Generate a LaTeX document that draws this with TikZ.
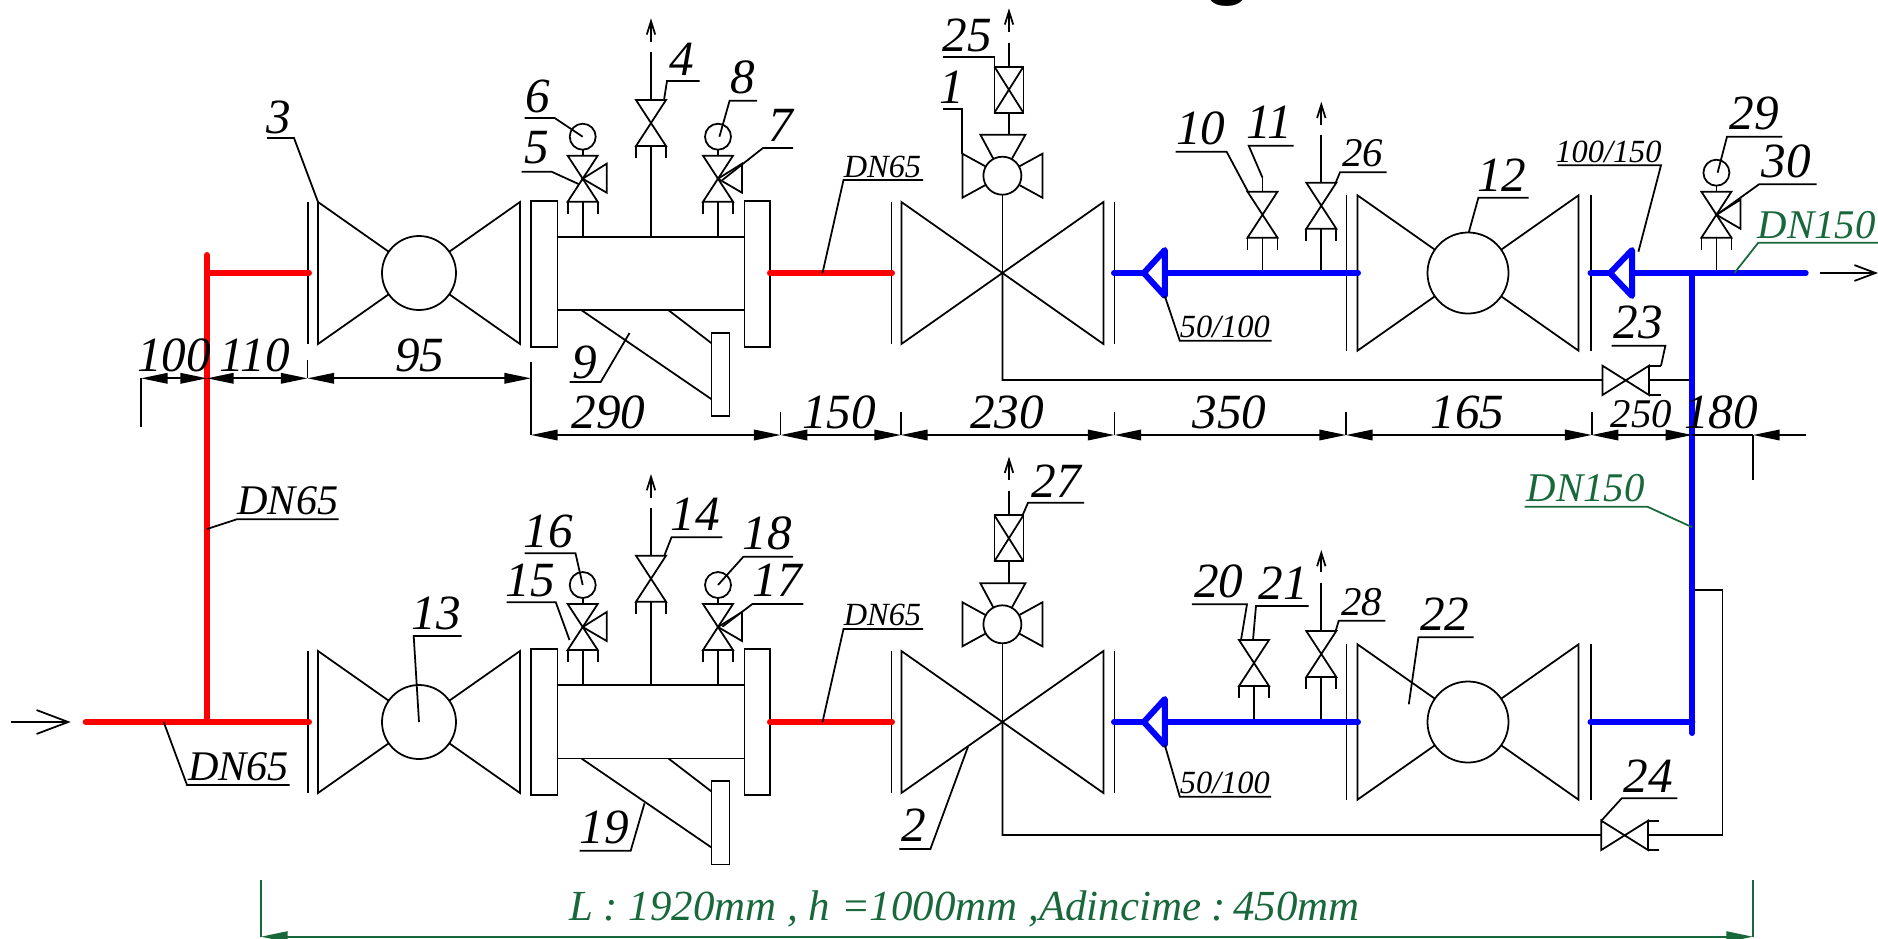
\documentclass[tikz,border=0pt]{standalone}
\usepackage{fontspec}
\setmainfont{Liberation Serif}
\newfontfamily\headfont{Liberation Sans}
\usetikzlibrary{arrows.meta}
\definecolor{dngreen}{RGB}{24,104,60}
\tikzset{
  thinln/.style={line width=0.5pt,line join=miter},
  numlbl/.style={thinln,inner sep=0pt,font=\fontsize{14}{16}\selectfont\itshape},
  midlbl/.style={numlbl,font=\fontsize{11.6}{13}\selectfont\itshape},
  smalllbl/.style={numlbl,font=\fontsize{9.2}{11}\selectfont\itshape},
  greenlbl/.style={numlbl,color=dngreen,font=\fontsize{11.6}{13}\selectfont\itshape},
  redpipe/.style={line width=1.7pt,red,line cap=round},
  bluepipe/.style={line width=1.7pt,blue,line cap=round,line join=round},
  dimline/.style={thinln,{Triangle[length=7.6pt,width=3pt]}-{Triangle[length=7.6pt,width=3pt]}},
  venttip/.style={thinln,-{Straight Barb[length=3.8pt,width=2.4pt]}}
}
% x y of label, far end of underline, its corner, point on the part
\newcommand{\callout}[7][numlbl]{%
  \node[#1] (#2) at (#3) {#4};
  \draw[#1] (#5) -- (#6) -- (#7);
}
\newcommand{\coneunit}[4]{% centre, scale, radius, flange offsets
  \begin{scope}[shift={(#1)},scale=#2,thinln]
    \draw (-101,-71) -- (101,71) -- (101,-71) -- (-101,71) -- cycle;
    \foreach \fl in {#4} \draw (\fl,-71) -- (\fl,71);
    \ifnum#3>0 \draw[fill=white] (0,0) circle (#3); \fi
  \end{scope}
}
\newcommand{\forkvalve}[1]{% top middle of the valve
  \begin{scope}[shift={(#1)},thinln]
    \draw (-15,0) -- (15,0) -- (-15,46) -- (15,46) -- cycle;
    \draw (-15,58) -- (-15,46) (15,58) -- (15,46);
  \end{scope}
}
\newcommand{\gaugevalve}[1]{%
  \forkvalve{#1}
  \begin{scope}[shift={(#1)},thinln]
    \draw (0,23) -- (24,8) -- (24,37) -- cycle;
    \draw (0,0) -- (0,-6);
    \draw (0,-19) circle (13);
  \end{scope}
}
\newcommand{\actuator}[1]{% middle of the head
  \begin{scope}[shift={(#1)},thinln]
    \draw (0,0) -- (-40,-22) -- (-40,22) -- (40,-22) -- (40,22) -- cycle;
    \draw (0,0) -- (-22,-41) -- (23,-41) -- cycle;
    \draw[fill=white] (0,0) circle (19);
    \draw (0,19) -- (0,97.3);
    \draw (6.5,-41) -- (6.5,-63);
    \draw (-8,-109) rectangle (21,-63);
    \draw (-8,-109) -- (21,-63) (21,-109) -- (-8,-63);
  \end{scope}
}
\newcommand{\strainer}[1]{% left end of the body, on its top line
  \begin{scope}[shift={(#1)},thinln]
    \draw (0,0) -- (187,0) (0,73.5) -- (187,73.5);
    \draw (-26.5,-36) rectangle (0,110);
    \draw (187,-36) rectangle (212.5,110);
    \draw (24,73.5) -- (154,162.5) (111,73.5) -- (154,106.5);
    \draw (154,96) rectangle (172,179.5);
  \end{scope}
}
\begin{document}
\begin{tikzpicture}[x=0.01cm,y=-0.01cm]
  \useasboundingbox (0,0) rectangle (1878,939);
  \node[inner sep=0pt,anchor=base,font=\fontsize{22.7}{24}\selectfont\headfont\bfseries] (headg) at (1228,-11) {g};
  % upper line
  \coneunit{419,273}{1}{37}{-111}
  \coneunit{1002.4,273}{1}{0}{-111,112}
  \coneunit{1468,273}{1.095}{37}{-111,112}
  \strainer{557.5,236.7}
  \gaugevalve{582.7,155.7}
  \gaugevalve{718,155.7}
  \forkvalve{651,100}
  \forkvalve{1262.5,191.7}
  \forkvalve{1321.3,182.7}
  \gaugevalve{1716.4,191.7}
  \actuator{1002.4,175.7}
  \draw[thinln] (582.7,201.7) -- (582.7,236.7) (718,201.7) -- (718,236.7)
    (651,146) -- (651,236.7) (651,100) -- (651,51.7)
    (1262.5,238.3) -- (1262.5,273) (1321.3,229.3) -- (1321.3,273)
    (1321.3,182.7) -- (1321.3,135) (1716.4,238.3) -- (1716.4,273)
    (1009,66.7) -- (1009,43);
  \draw[venttip] (651,41.7) -- (651,18.3);
  \draw[venttip] (1321.3,125) -- (1321.3,101.7);
  \draw[venttip] (1009,31.7) -- (1009,8.3);
  % bypass 23
  \draw[thinln] (1002.4,273) -- (1002.4,380) -- (1602.5,380) -- (1602.5,365.7) -- (1649,395) -- (1649,365.7) -- (1602.5,395) -- (1602.5,380);
  \draw[thinln] (1661,365.7) -- (1649,365.7) (1661,395) -- (1649,395) (1649,380) -- (1692.4,380);
  % lower line
  \coneunit{419,722}{1}{37}{-111}
  \coneunit{1002.4,722}{1}{0}{-111,112}
  \coneunit{1468,722}{1.095}{37}{-111,112}
  \strainer{557.5,685}
  \gaugevalve{582.7,604}
  \gaugevalve{718,604}
  \forkvalve{651,555.7}
  \forkvalve{1254,640}
  \forkvalve{1321.3,631}
  \actuator{1002.4,624.3}
  \draw[thinln] (582.7,650) -- (582.7,685) (718,650) -- (718,685)
    (651,601.7) -- (651,685) (651,555.7) -- (651,508.3)
    (1254,686) -- (1254,722) (1321.3,677) -- (1321.3,722)
    (1321.3,631) -- (1321.3,583.3) (1009,515) -- (1009,491.3);
  \draw[venttip] (651,497.7) -- (651,474);
  \draw[venttip] (1321.3,571.7) -- (1321.3,550);
  \draw[venttip] (1009,480) -- (1009,456.6);
  % bypass 24
  \draw[thinln] (1002.4,722) -- (1002.4,835) -- (1601.3,835) -- (1601.3,820.7) -- (1648,850) -- (1648,820.7) -- (1601.3,850) -- (1601.3,835);
  \draw[thinln] (1659.4,820.7) -- (1648,820.7) (1659.4,850) -- (1648,850);
  \draw[thinln] (1648,835) -- (1722.4,835) -- (1722.4,590) -- (1692.4,590);
  % pipes
  \draw[redpipe] (207,722) -- (207,255);
  \draw[redpipe] (207,273) -- (309,273);
  \draw[redpipe] (85.7,722) -- (309,722);
  \draw[redpipe] (770,273) -- (892,273);
  \draw[redpipe] (770,722) -- (892,722);
  \draw[bluepipe] (1114,273) -- (1358,273);
  \draw[bluepipe] (1114,722) -- (1358,722);
  \draw[bluepipe] (1590.5,273) -- (1805.7,273);
  \draw[bluepipe] (1590.5,722) -- (1692.4,722);
  \draw[bluepipe] (1692.4,273) -- (1692.4,733);
  \draw[bluepipe,fill=white] (1164.8,250) -- (1143.8,273) -- (1164.8,296) -- cycle;
  \draw[bluepipe,fill=white] (1164.8,699) -- (1143.8,722) -- (1164.8,745) -- cycle;
  \draw[bluepipe,fill=white] (1632,250) -- (1610,273) -- (1632,296) -- cycle;
  % flow
  \draw[thinln,-{Straight Barb[length=9pt,width=6.8pt]}] (10.8,722) -- (70.7,722);
  \draw[thinln,-{Straight Barb[length=6pt,width=4.5pt]}] (1820,273) -- (1878,273);
  % dimensions
  \draw[thinln] (141,378.3) -- (141,426.7) (307.5,360) -- (307.5,378.3) (531,361.7) -- (531,435);
  \foreach \tick in {780.6,901,1114.5,1346,1591.7} \draw[thinln] (\tick,412) -- (\tick,435);
  \draw[thinln] (1753,435) -- (1753,480);
  \draw[dimline] (141,378.3) -- (207,378.3);
  \draw[dimline] (207,378.3) -- (307.5,378.3);
  \draw[dimline] (307.5,378.3) -- (531,378.3);
  \draw[dimline] (531,435) -- (780.6,435);
  \draw[dimline] (780.6,435) -- (901,435);
  \draw[dimline] (901,435) -- (1114.5,435);
  \draw[dimline] (1114.5,435) -- (1346,435);
  \draw[dimline] (1346,435) -- (1591.7,435);
  \draw[dimline] (1591.7,435) -- (1692.4,435);
  \draw[thinln] (1692.4,435) -- (1753,435);
  \draw[thinln,{Triangle[length=7.6pt,width=3pt]}-] (1753,435) -- (1806,435);
  \foreach \nm/\px/\py/\tx in {dc/174/355/100,de/255/355/110,df/419.7/355/95,dg/608.5/412.7/290,dh/839/412.7/150,
      di/1007/412.7/230,dj/1229.6/412.7/350,dk/1467.6/412.7/165,dm/1721/412.7/180}
    \node[numlbl] (\nm) at (\px,\py) {\tx};
  \node[midlbl] (dl) at (1641.4,414) {250};
  % overall size
  \draw[thinln,dngreen] (260.8,880) -- (260.8,936.7) (1753,880) -- (1753,936.7);
  \draw[dimline,dngreen] (260.8,936.7) -- (1753,936.7);
  \node[greenlbl,font=\fontsize{12.2}{14}\selectfont\itshape] (sizetxt) at (964.5,908.5) {L : 1920mm , h =1000mm ,Adincime :\,450mm};
  % part numbers
  \callout{n1}{952,87}{1}{943,109}{962,109}{962,154}
  \callout{n3}{279,117}{3}{267,138}{294,138}{318,202}
  \callout{n4}{682,59}{4}{699.6,81}{667,81}{664,100}
  \callout{n5}{536.6,148}{5}{521.6,171.7}{551.6,171.7}{578.5,184}
  \callout{n6}{538,96.7}{6}{524.6,118}{554.6,118}{582.7,136.7}
  \callout{n7}{780.6,125}{7}{793,148}{763,148}{722.4,180}
  \callout{n8}{743,77}{8}{757,100.7}{729.6,100.7}{719.4,136.7}
  \callout{n9}{584.5,362}{9}{569.5,382}{600.7,382}{629.5,333}
  \callout{n10}{1200.8,128.3}{10}{1175.6,151.7}{1226.6,151.7}{1248,191.7}
  \callout{n11}{1269.7,122.3}{11}{1293.7,145.7}{1248.7,145.7}{1262.5,177.7}
  \draw[thinln] (1262.5,177.7) -- (1262.5,191.7);
  \callout{n12}{1501.7,175}{12}{1528.7,197.7}{1478.4,197.7}{1468.8,232.3}
  \callout{n13}{436.5,613.3}{13}{461.6,636}{413.7,636}{419,722}
  \callout{n14}{695.4,514.3}{14}{722.4,537.3}{671.5,537.3}{664.3,555.7}
  \callout{n15}{530.6,580}{15}{506.6,602.3}{555.8,602.3}{569.5,640}
  \callout{n16}{548.6,531}{16}{524.6,553.3}{575.5,553.3}{582.7,585}
  \callout{n17}{777.6,580.7}{17}{803.3,604}{752.4,604}{722.4,626.7}
  \callout{n18}{767.4,533.3}{18}{793.2,556.7}{743.4,556.7}{718,585}
  \callout{n19}{604.3,827.3}{19}{579.7,850.7}{630.7,850.7}{644.5,803.3}
  \callout{n2}{914,825}{2}{899.3,849}{930.4,849}{968,746.7}
  \callout{n20}{1218.8,581.7}{20}{1191.8,604.3}{1247,604.3}{1241,640}
  \callout{n21}{1283,583.3}{21}{1308.7,606}{1256,606}{1253,640}
  \callout{n22}{1444.8,614}{22}{1473.6,637.3}{1418.4,637.3}{1408.8,704.3}
  \callout{n23}{1638.4,322.7}{23}{1611.5,345.7}{1665.4,345.7}{1661,365.7}
  \callout{n24}{1648.6,775.7}{24}{1677.4,798.3}{1621.7,798.3}{1601.3,820.7}
  \callout{n25}{967,35}{25}{943,57.3}{994.6,57.3}{994.6,66.7}
  \callout[midlbl]{n26}{1362.7,153.3}{26}{1386.6,172.3}{1340,172.3}{1335.7,182.7}
  \callout{n27}{1056,481}{27}{1084,502.7}{1028,502.7}{1022.7,515}
  \callout[midlbl]{n28}{1361.5,601.7}{28}{1385.4,620.7}{1338.7,620.7}{1335.7,631}
  \callout{n29}{1754,113.3}{29}{1782.3,136.7}{1727,136.7}{1717.6,172.7}
  \callout{n30}{1786.5,161.7}{30}{1816.5,184.3}{1759,184.3}{1716.4,215}
  % pipe sizes
  \callout[smalllbl]{s1}{882.5,166.7}{DN65}{923,180}{843.5,180}{822.5,273}
  \callout[smalllbl]{s2}{882.5,615}{DN65}{923,629}{843.5,629}{822.5,722}
  \callout[numlbl,font=\fontsize{12}{14}\selectfont\itshape]{s3}{287.8,501}{DN65}{338.7,519.3}{236.8,519.3}{207,529}
  \callout[numlbl,font=\fontsize{12}{14}\selectfont\itshape]{s4}{238.6,766.7}{DN65}{289.6,785}{187,785}{163.7,722}
  \callout[smalllbl]{s5}{1224.8,326.7}{50/100}{1271.5,340.7}{1179.8,340.7}{1164.8,296}
  \callout[smalllbl]{s6}{1224.8,782.7}{50/100}{1271,796.7}{1179.8,796.7}{1164.8,745}
  \callout[smalllbl]{s7}{1608.5,151.7}{100/150}{1557.5,165.3}{1661,165.3}{1638.4,251.7}
  \callout[greenlbl]{s8}{1816.5,225}{DN150}{1878,242.7}{1758.3,242.7}{1734.4,273}
  \callout[greenlbl]{s9}{1585.7,488.3}{DN150}{1524.5,506.7}{1647.4,506.7}{1692.4,527.3}
\end{tikzpicture}
\end{document}
